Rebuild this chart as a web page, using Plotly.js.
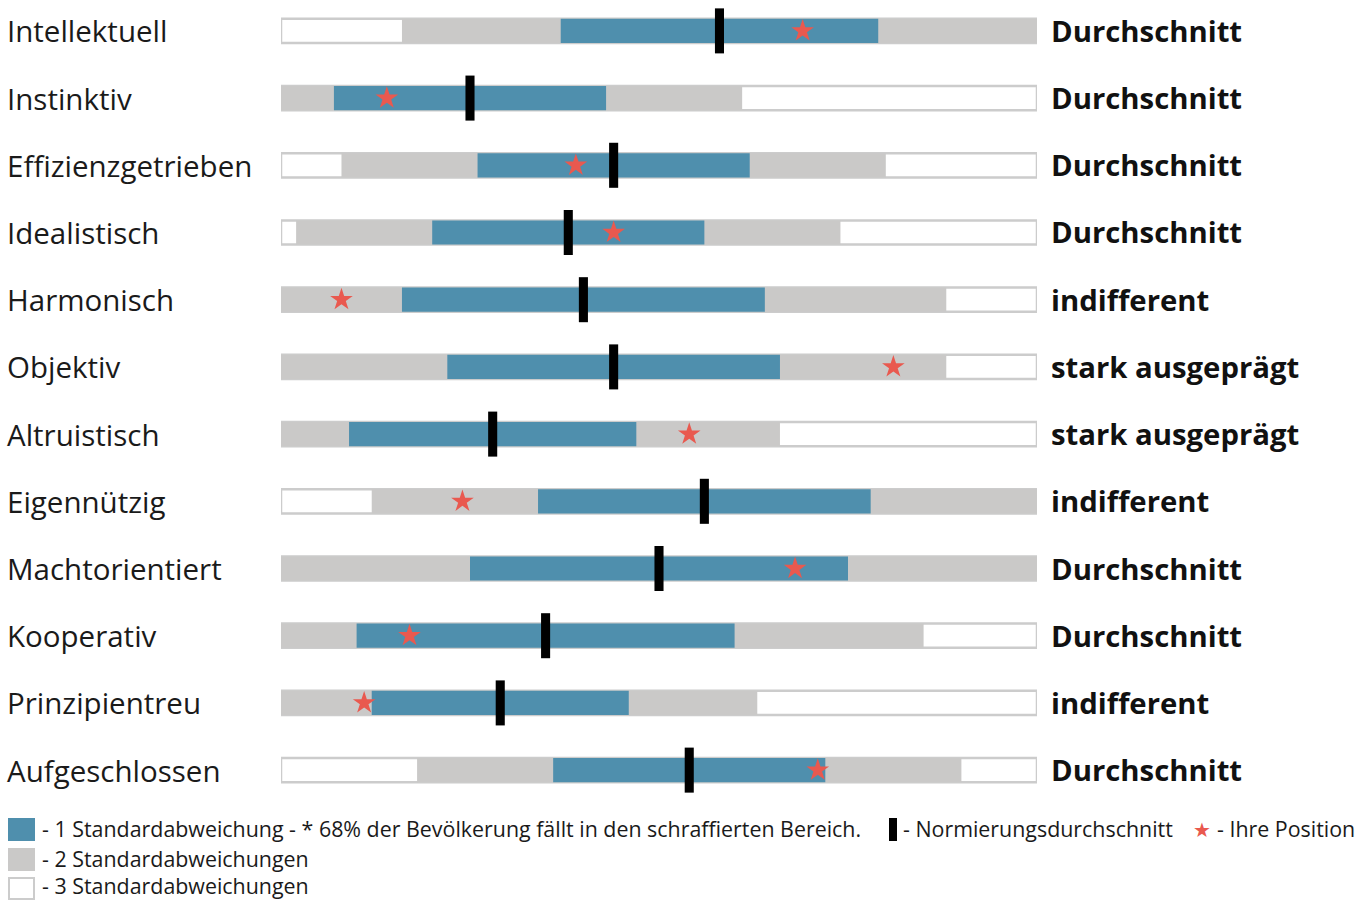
<!DOCTYPE html>
<html>
<head>
<meta charset="utf-8">
<script src="https://cdn.plot.ly/plotly-3.0.1.min.js"></script>
<style>html,body{margin:0;padding:0;background:#fff;}#chart{width:1372px;height:900px;}</style>
</head>
<body>
<div id="chart"></div>
<script>
// ---- data ----
const traits = ["Intellektuell","Instinktiv","Effizienzgetrieben","Idealistisch","Harmonisch","Objektiv","Altruistisch","Eigennützig","Machtorientiert","Kooperativ","Prinzipientreu","Aufgeschlossen"];
const normMean = [58, 25, 44, 38, 40, 44, 28, 56, 50, 35, 29, 54];
const normSD   = [21, 18, 18, 18, 24, 22, 19, 22, 25, 25, 17, 18];
const yourScore = [69, 14, 39, 44, 8, 81, 54, 24, 68, 17, 11, 71];
const verdicts = ["Durchschnitt","Durchschnitt","Durchschnitt","Durchschnitt","indifferent","stark ausgeprägt","stark ausgeprägt","indifferent","Durchschnitt","Durchschnitt","indifferent","Durchschnitt"];
const scaleMin = 0, scaleMax = 100;
const legendTexts = [
  "- 1 Standardabweichung - * 68% der Bevölkerung fällt in den schraffierten Bereich.",
  "- 2 Standardabweichungen",
  "- 3 Standardabweichungen",
  "- Normierungsdurchschnitt",
  "- Ihre Position"
];

// ---- styles ----
const BLUE = "#4f8fad", GRAY = "#cac9c8", BORDER = "#cccccc", STAR = "#e9594f";
const FONT = "Open Sans, Noto Sans, sans-serif";
const W = 1372, H = 900, L = 281, R = 1037, T = 4, B = 797;
const px2x = px => (px - L) / (R - L);
const px2y = py => (B - py) / (B - T);

const rows = traits.map((_, i) => i);
const barW = 0.36, markW = 0.67, markThick = 1.2;

const traces = [
  { // 3 SD background
    type: "bar", orientation: "h", y: rows,
    base: rows.map(() => scaleMin), x: rows.map(() => scaleMax - scaleMin),
    width: barW, marker: {color: "#ffffff", line: {color: BORDER, width: 2.5}},
    hoverinfo: "skip"
  },
  { // 2 SD
    type: "bar", orientation: "h", y: rows,
    base: rows.map(i => Math.max(scaleMin, normMean[i] - 2 * normSD[i])),
    x: rows.map(i => Math.min(scaleMax, normMean[i] + 2 * normSD[i]) - Math.max(scaleMin, normMean[i] - 2 * normSD[i])),
    width: barW, marker: {color: GRAY, line: {width: 0}}, hoverinfo: "skip"
  },
  { // 1 SD
    type: "bar", orientation: "h", y: rows,
    base: rows.map(i => normMean[i] - normSD[i]),
    x: rows.map(i => 2 * normSD[i]),
    width: barW, marker: {color: BLUE, line: {width: 0}}, hoverinfo: "skip"
  },
  { // norm mean marker
    type: "bar", orientation: "h", y: rows,
    base: rows.map(i => normMean[i] - markThick / 2),
    x: rows.map(() => markThick),
    width: markW, marker: {color: "#000000", line: {width: 0}}, hoverinfo: "skip"
  },
  { // your position
    type: "scatter", mode: "markers", y: rows, x: yourScore,
    marker: {symbol: "star", color: STAR, size: 17, line: {width: 0}},
    hoverinfo: "skip", cliponaxis: false
  }
];

const annotations = [];
const shapes = [];
traits.forEach((t, i) => {
  annotations.push({xref: "paper", yref: "y", x: px2x(5), y: i, xanchor: "left", yanchor: "middle",
    text: t, showarrow: false, font: {family: FONT, size: 29.5, color: "#1a1a1a"}});
  annotations.push({xref: "paper", yref: "y", x: px2x(1049), y: i, xanchor: "left", yanchor: "middle",
    text: "<b>" + verdicts[i] + "</b>", showarrow: false, font: {family: FONT, size: 29.3, color: "#111111"}});
});

// legend
const lf = {family: FONT, size: 21.4, color: "#1a1a1a"};
function legText(xpx, ypx, txt) {
  annotations.push({xref: "paper", yref: "paper", x: px2x(xpx), y: px2y(ypx), xanchor: "left", yanchor: "middle",
    text: txt, showarrow: false, font: lf, borderpad: 0});
}
function legBox(x0, y0, x1, y1, fill, line) {
  shapes.push({type: "rect", xref: "paper", yref: "paper", x0: px2x(x0), x1: px2x(x1), y0: px2y(y1), y1: px2y(y0),
    fillcolor: fill, line: line || {width: 0}});
}
legBox(8, 818, 35, 841, BLUE);
legText(41, 828, legendTexts[0]);
legBox(8, 848, 35, 871, GRAY);
legText(41, 858, legendTexts[1]);
legBox(9, 878, 34, 899, "#ffffff", {color: BORDER, width: 2});
legText(41, 885, legendTexts[2]);
legBox(889, 818, 897, 841, "#000000");
legText(902, 828, legendTexts[3]);
legText(1216, 828, legendTexts[4]);
annotations.push({xref: "paper", yref: "paper", x: px2x(1202), y: px2y(830), xanchor: "center", yanchor: "middle",
  text: "★", showarrow: false, font: {family: "DejaVu Sans", size: 20, color: STAR}});

const layout = {
  width: W, height: H,
  margin: {l: L, r: W - R, t: T, b: H - B, pad: 0},
  paper_bgcolor: "#ffffff", plot_bgcolor: "#ffffff",
  barmode: "overlay", showlegend: false,
  xaxis: {range: [scaleMin, scaleMax], visible: false, fixedrange: true},
  yaxis: {range: [11.4, -0.4], visible: false, fixedrange: true},
  shapes: shapes, annotations: annotations
};

Plotly.newPlot("chart", traces, layout, {displayModeBar: false, staticPlot: true});
</script>
</body>
</html>
